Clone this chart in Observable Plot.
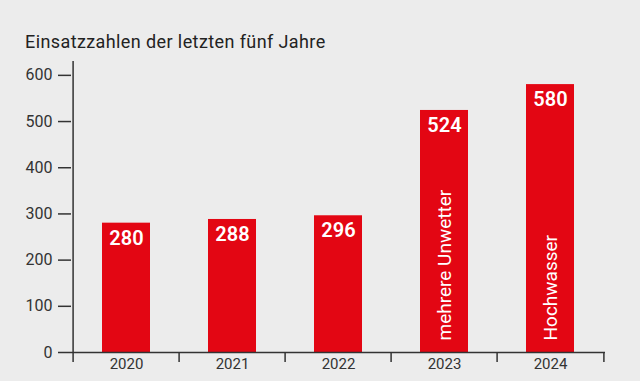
<!DOCTYPE html>
<html><head><meta charset="utf-8">
<script src="https://cdn.jsdelivr.net/npm/d3@7"></script>
<script src="https://cdn.jsdelivr.net/npm/@observablehq/plot@0.6"></script>
<style>
body{margin:0;background:#ececec;}
#wrap{position:relative;width:640px;height:381px;}
#title{position:absolute;left:25px;top:33px;font:18px/18px Roboto;letter-spacing:0.4px;color:#222;white-space:nowrap;}
svg{display:block;}
</style></head><body>
<div id="wrap"><div id="title">Einsatzzahlen der letzten fünf Jahre</div></div>
<script>
const years = ["2020","2021","2022","2023","2024"];
const counts = [280, 288, 296, 524, 580];
const notes = ["", "", "", "mehrere Unwetter", "Hochwasser"];
const yTicks = [0, 100, 200, 300, 400, 500, 600];

const data = years.map((y, i) => ({year: y, count: counts[i], note: notes[i]}));
const W = 640, H = 381, ML = 71, MR = 35, MT = 61, MB = 29;
const step = (W - ML - MR) / years.length;
const axisColor = "#333";
const red = "#e30613";

const chart = Plot.plot({
  width: W, height: H,
  marginLeft: ML, marginRight: MR, marginTop: MT, marginBottom: MB,
  style: {background: "transparent", fontFamily: "Roboto", color: axisColor},
  x: {domain: years, paddingInner: 0.55, paddingOuter: 0.275, axis: null},
  y: {domain: [0, 630], axis: null},
  marks: [
    Plot.barY(data, {x: "year", y: "count", fill: red}),
    Plot.axisY({ticks: yTicks, tickSize: 13, tickPadding: 6, fontSize: 16, label: null, strokeWidth: 1.5, stroke: axisColor}),
    Plot.axisX({tickSize: 0, tickPadding: 6, fontSize: 15, label: null}),
    Plot.ruleY([0], {stroke: axisColor, strokeWidth: 1.5}),
    Plot.ruleX([years[0]], {dx: -step / 2, insetBottom: -10, stroke: axisColor, strokeWidth: 1.5}),
    Plot.ruleX(years.slice(1), {dx: -step / 2, y1: 0, y2: 0, insetBottom: -10, stroke: axisColor, strokeWidth: 1.5}),
    Plot.ruleX([years[years.length - 1]], {dx: step / 2, y1: 0, y2: 0, insetBottom: -10, stroke: axisColor, strokeWidth: 1.5}),
    Plot.text(data, {x: "year", y: "count", text: d => String(d.count), fill: "white", fontSize: 20, fontWeight: 600, lineAnchor: "middle", dy: 15}),
    Plot.text(data.filter(d => d.note), {x: "year", y: 0, text: "note", rotate: -90, textAnchor: "start", lineAnchor: "middle", dy: -12, fill: "white", fontSize: 19})
  ]
});
document.getElementById("wrap").appendChild(chart);
</script>
</body></html>
